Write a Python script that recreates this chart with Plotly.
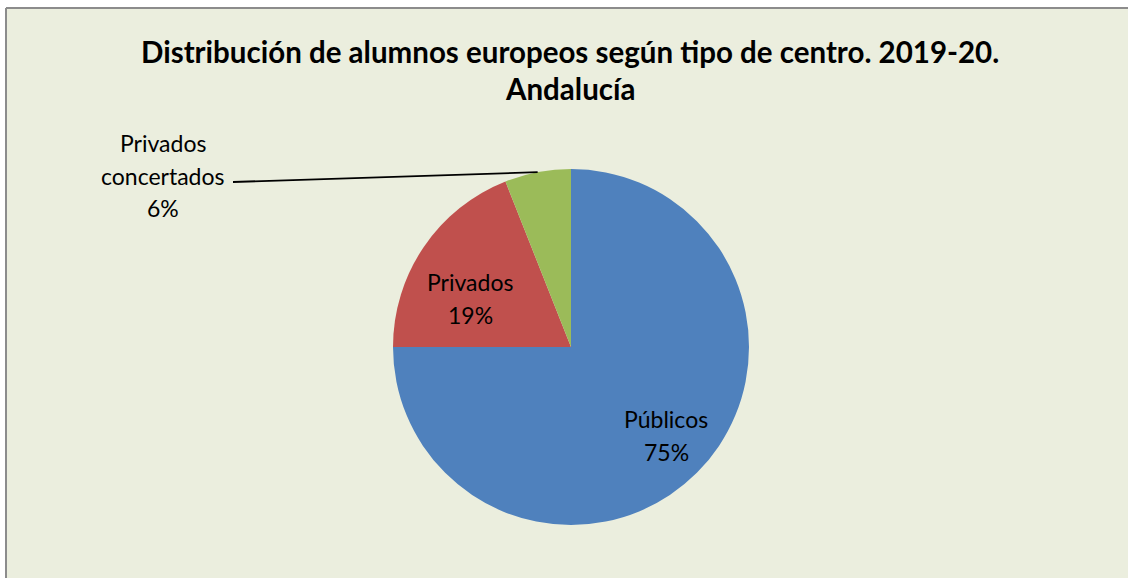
import math
import plotly.graph_objects as go

W, H = 1128, 578
labels = ["Públicos", "Privados", "Privados concertados"]
values = [75, 19, 6]
colors = ["#4F81BD", "#C0504D", "#9BBB59"]
title_lines = ["Distribución de alumnos europeos según tipo de centro. 2019-20.", "Andalucía"]

cx, cy, r = 571, 347, 178


def px(x):
    return x / W


def py(y):
    return 1 - y / H


fig = go.Figure(go.Pie(
    labels=labels, values=values, sort=False, direction="clockwise", rotation=0,
    marker=dict(colors=colors, line=dict(width=0)),
    textinfo="none", hoverinfo="label+percent", showlegend=False,
    domain=dict(x=[px(cx - r), px(cx + r)], y=[py(cy + r), py(cy - r)]),
))

font = "Lato, Open Sans, sans-serif"
ann = []
for i, t in enumerate(title_lines):
    ann.append(dict(x=px(570), y=py(51 + 37 * i), xref="paper", yref="paper", text=f"<b>{t}</b>",
                    showarrow=False, font=dict(family=font, size=29.5, color="#000"),
                    xanchor="center", yanchor="middle"))

total = sum(values)
pct = [round(v / total * 100) for v in values]
# inside labels
inside_pos = {0: (666, 418), 1: (470, 281)}
for i, (x, y) in inside_pos.items():
    for j, line in enumerate([labels[i], f"{pct[i]}%"]):
        ann.append(dict(x=px(x), y=py(y + 1 + 33 * j), xref="paper", yref="paper", text=line,
                        showarrow=False, font=dict(family=font, size=23, color="#000"),
                        xanchor="center", yanchor="middle"))
# outside label for green
for j, line in enumerate(["Privados", "concertados", f"{pct[2]}%"]):
    ann.append(dict(x=px(163), y=py(143 + 32.5 * j), xref="paper", yref="paper", text=line,
                    showarrow=False, font=dict(family=font, size=23, color="#000"),
                    xanchor="center", yanchor="middle"))

# leader line to midpoint of green slice edge
start = sum(values[:2]) / total * 360
mid = math.radians(start + values[2] / total * 360 / 2)
ex, ey = cx + r * math.sin(mid), cy - r * math.cos(mid)

border = dict(color="#8C8C8C", width=2)
shapes = [
    dict(type="rect", xref="paper", yref="paper", x0=px(6), x1=1.05, y0=-0.05, y1=py(8),
         fillcolor="#EBEEDE", line=dict(width=0), layer="below"),
    dict(type="line", xref="paper", yref="paper", x0=px(6), x1=1.05, y0=py(8), y1=py(8), line=border),
    dict(type="line", xref="paper", yref="paper", x0=px(6), x1=px(6), y0=-0.05, y1=py(8), line=border),
    dict(type="line", xref="paper", yref="paper", x0=px(233), y0=py(182), x1=px(ex), y1=py(ey),
         line=dict(color="#000", width=1.8)),
]

fig.update_layout(width=W, height=H, margin=dict(l=0, r=0, t=0, b=0),
                  paper_bgcolor="white", annotations=ann, shapes=shapes)
fig.write_html("out.html", config={"displayModeBar": False},
               post_script="document.body.style.margin='0';document.body.style.overflow='hidden';")
